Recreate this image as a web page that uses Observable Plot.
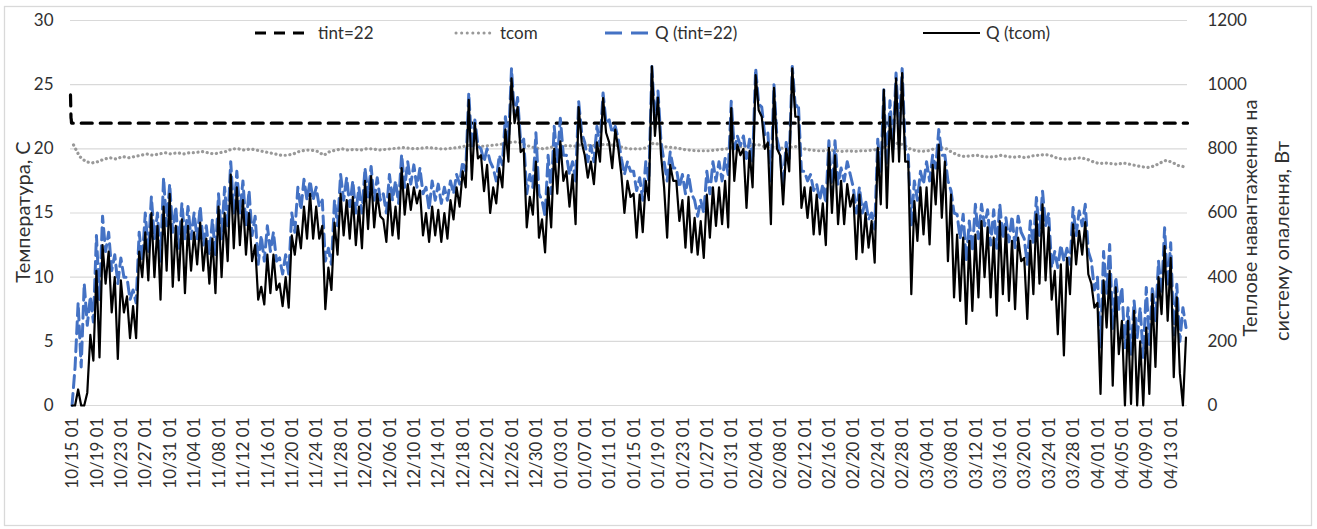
<!DOCTYPE html>
<html><head><meta charset="utf-8">
<script src="https://cdn.jsdelivr.net/npm/d3@7"></script>
<script src="https://cdn.jsdelivr.net/npm/@observablehq/plot@0.6"></script>
<style>
body{margin:0;background:#fff;}
#chart{width:1317px;height:529px;}
</style></head><body><div id="chart"></div>
<script>
// ---- data ----
const startDate = "2018-10-15T00:00:00Z";   // first hour of the series
const tickLabels = ["10/15 01","10/19 01","10/23 01","10/27 01","10/31 01","11/04 01","11/08 01","11/12 01","11/16 01","11/20 01","11/24 01","11/28 01","12/02 01","12/06 01","12/10 01","12/14 01","12/18 01","12/22 01","12/26 01","12/30 01","01/03 01","01/07 01","01/11 01","01/15 01","01/19 01","01/23 01","01/27 01","01/31 01","02/04 01","02/08 01","02/12 01","02/16 01","02/20 01","02/24 01","02/28 01","03/04 01","03/08 01","03/12 01","03/16 01","03/20 01","03/24 01","03/28 01","04/01 01","04/05 01","04/09 01","04/13 01"];
const leftTicks = [0,5,10,15,20,25,30];
const rightTicks = [0,200,400,600,800,1000,1200];
const seriesNames = ["tint=22","tcom","Q (tint=22)","Q (tcom)"];

// Q (tcom), W: two readings per day (night high, day low)
const qTcom = [
0,0, 50,0, 0,40, 220,140,
420,150, 500,380, 480,290, 400,145,
390,290, 340,210, 310,210, 480,400,
540,390, 600,400, 560,330, 620,420,
660,370, 560,390, 580,350, 560,420,
540,440, 570,420, 520,380, 520,350,
620,400, 600,450, 720,490, 680,500,
640,470, 600,450, 500,330, 370,315,
470,350, 470,360, 380,310, 400,305,
530,470, 560,490, 620,520, 660,520,
620,520, 560,300, 430,360, 570,470,
660,530, 640,520, 650,500, 620,490,
700,550, 715,555, 660,590, 580,510,
660,530, 620,520, 740,595, 690,610,
680,630, 670,530, 600,510, 620,530,
610,510, 600,520, 640,580, 680,620,
730,680, 953,704, 880,770, 780,668,
750,600, 680,630, 740,680, 860,760,
1020,880, 930,790, 800,555, 650,595,
760,523, 580,477, 680,555, 800,660,
823,700, 730,620, 720,565, 930,820,
780,710, 760,690, 820,760, 958,850,
820,740, 860,800, 720,600, 700,650,
660,523, 657,540, 700,640, 1057,840,
960,780, 680,523, 750,700, 700,575,
640,492, 650,477, 585,470, 575,460,
657,523, 680,560, 680,565, 700,555,
927,700, 813,780, 800,616, 793,680,
1030,920, 900,800, 820,565, 990,800,
780,627, 800,730, 1051,900, 900,616,
680,585, 680,533, 657,533, 630,500,
803,600, 780,565, 700,565, 690,620,
657,456, 657,477, 600,492, 575,445,
803,627, 984,616, 900,760, 1020,760,
1036,760, 760,347, 637,513, 680,533,
680,502, 750,627, 813,585, 760,450,
657,337, 533,326, 523,254, 513,295,
533,337, 575,400, 555,337, 523,280,
575,347, 555,326, 513,300, 523,450,
460,270, 513,347, 596,380, 627,390,
555,330, 420,222, 440,156, 460,347,
565,440, 544,470, 572,409, 380,305,
320,36, 390,243, 420,62, 368,160,
264,0, 264,5, 295,0, 200,0,
243,36, 347,120, 400,285, 497,264,
460,88, 337,100, 0,212
];

// Q (tint=22), W: two readings per day
const qTint = [
0,120, 320,120, 380,250, 340,260,
530,330, 590,480, 540,420, 470,380,
460,400, 400,330, 360,320, 540,450,
600,480, 650,520, 600,450, 710,560,
690,540, 620,490, 630,520, 620,520,
600,520, 620,500, 560,470, 580,470,
660,520, 680,560, 760,600, 730,600,
700,560, 670,530, 590,440, 530,450,
560,480, 540,450, 460,410, 470,410,
600,540, 680,610, 705,640, 700,640,
680,620, 640,450, 490,440, 640,560,
720,640, 710,620, 700,600, 680,600,
740,650, 745,640, 710,640, 660,600,
720,640, 700,630, 782,680, 760,690,
750,680, 740,660, 680,610, 700,640,
690,630, 680,640, 700,660, 720,690,
760,730, 974,800, 890,810, 800,760,
800,760, 740,700, 780,750, 900,820,
1050,900, 960,820, 830,660, 720,680,
850,660, 640,590, 780,660, 870,760,
895,780, 780,720, 760,700, 948,850,
820,760, 810,760, 870,810, 974,880,
890,850, 870,830, 770,720, 760,730,
730,670, 710,640, 760,700, 1057,880,
980,820, 760,700, 790,740, 740,680,
720,660, 720,660, 640,590, 640,600,
730,660, 760,700, 760,700, 770,720,
948,800, 840,810, 840,770, 830,760,
1051,940, 930,840, 850,700, 1000,830,
790,680, 820,770, 1057,930, 940,730,
730,700, 720,670, 690,640, 690,630,
825,660, 825,690, 740,700, 760,720,
680,600, 680,600, 640,580, 600,550,
830,730, 984,720, 950,800, 1036,850,
1050,800, 780,560, 700,640, 730,690,
760,700, 780,740, 860,780, 780,700,
670,600, 596,520, 596,450, 575,480,
627,520, 627,560, 610,500, 610,490,
627,520, 585,510, 590,492, 590,540,
520,440, 575,500, 648,530, 668,560,
600,430, 480,430, 500,450, 490,440,
617,530, 606,560, 627,480, 450,360,
400,180, 480,350, 502,240, 400,300,
368,180, 305,160, 326,212, 305,150,
368,190, 370,264, 450,347, 554,370,
507,220, 378,200, 305,243
];

// tcom, °C: one reading per day
const tcom = [
20.3,19.4,19.0,18.9,19.0,19.2,19.3,19.2,19.4,19.3,
19.4,19.5,19.6,19.5,19.6,19.7,19.6,19.7,19.6,19.7,
19.7,19.8,19.7,19.6,19.7,19.8,20.0,20.0,19.9,20.0,
19.9,19.8,19.7,19.6,19.5,19.5,19.6,19.8,19.9,19.9,
19.8,19.5,19.8,19.9,20.0,19.9,19.95,19.9,20.0,20.0,
19.9,19.95,20.0,20.05,20.1,20.05,20.0,20.05,20.1,20.05,
20.0,20.0,20.05,20.1,20.2,20.3,20.25,20.2,20.25,20.3,
20.35,20.45,20.55,20.5,20.3,20.15,20.05,20.0,20.1,20.2,
20.25,20.25,20.2,20.3,20.3,20.25,20.3,20.35,20.3,20.25,
20.1,20.0,20.0,20.0,20.1,20.45,20.35,20.15,20.1,20.05,
19.95,19.9,19.85,19.85,19.85,19.9,19.95,20.0,20.1,20.15,
20.2,20.25,20.35,20.2,20.1,20.2,20.05,20.05,20.2,20.1,
19.95,19.9,19.85,19.85,19.9,19.85,19.8,19.85,19.8,19.85,
19.85,19.9,20.0,20.15,20.2,20.45,20.3,20.0,19.85,19.8,
19.85,20.0,20.1,20.0,19.7,19.5,19.4,19.45,19.5,19.4,
19.35,19.4,19.5,19.4,19.35,19.4,19.3,19.45,19.5,19.55,
19.5,19.3,19.2,19.2,19.25,19.3,19.2,19.0,18.85,18.9,
18.85,18.8,18.9,18.8,18.7,18.6,18.55,18.65,18.9,19.1,
18.95,18.7,18.6
];

// tint: set point, °C, at the given hour from the start
const tintHours  = [0, 1, 2, 3, 4, 4392];
const tintValues = [24.2, 23.3, 22.4, 22.3, 22.0, 22.0];

const totalDays = 183;
const qPerDegree = 1200 / 30; // right axis W per left-axis °C

// ---- build tables ----
const t0 = Date.parse(startDate);
const DAY = 864e5, HOUR = 36e5;
const halfDayTime = i => new Date(t0 + (i * 0.5 + 0.25) * DAY);
const blackData = qTcom.map((q, i) => ({t: halfDayTime(i), y: q / qPerDegree}));
const blueData  = qTint.map((q, i) => ({t: halfDayTime(i), y: q / qPerDegree}));
const tcomData  = tcom.map((v, i) => ({t: new Date(t0 + (i + 0.5) * DAY), y: v}));
const tintData  = tintHours.map((h, i) => ({t: new Date(t0 + h * HOUR), y: tintValues[i]}));

const tickDates = tickLabels.map(s => {
  const [md, hh] = s.split(" ");
  const [m, d] = md.split("/").map(Number);
  const year = m >= 9 ? 2018 : 2019;
  return new Date(Date.UTC(year, m - 1, d, +hh));
});
const labelOf = new Map(tickDates.map((d, i) => [+d, tickLabels[i]]));

const FONT = "Lato, 'Noto Sans', sans-serif";
const TXT = "#303030";

const plot = Plot.plot({
  width: 1317, height: 529,
  marginLeft: 70, marginRight: 130, marginTop: 20, marginBottom: 124,
  x: {type: "utc", domain: [new Date(t0), new Date(t0 + totalDays * DAY)]},
  y: {domain: [0, 30]},
  style: {fontFamily: FONT, fontSize: "17px", color: TXT, background: "white", overflow: "visible"},
  marks: [
    Plot.ruleY(leftTicks, {stroke: "#d9d9d9", strokeWidth: 1.2}),
    Plot.axisY({ticks: leftTicks, tickSize: 0, tickPadding: 17, label: null, fontSize: 17}),
    Plot.axisY({anchor: "right", ticks: rightTicks.map(v => v / qPerDegree),
      tickFormat: v => String(Math.round(v * qPerDegree)), tickSize: 0, tickPadding: 20, label: null, fontSize: 17}),
    Plot.axisX({ticks: tickDates, tickFormat: d => labelOf.get(+d), tickRotate: -90,
      tickSize: 0, tickPadding: 12, label: null, fontSize: 17, dx: 2}),
    Plot.lineY(tintData, {x: "t", y: "y", stroke: "#000", strokeWidth: 3.2, strokeDasharray: "11,8"}),
    Plot.lineY(tcomData, {x: "t", y: "y", stroke: "#999999", strokeWidth: 3.2, strokeDasharray: "0.1,4.6", strokeLinecap: "round"}),
    Plot.lineY(blueData, {x: "t", y: "y", stroke: "#4472c4", strokeWidth: 3, strokeDasharray: "12,6"}),
    Plot.lineY(blackData, {x: "t", y: "y", stroke: "#000", strokeWidth: 2.2})
  ]
});
document.getElementById("chart").appendChild(plot);

// ---- decorations: outer border, axis titles, legend ----
const svg = d3.select(plot);
svg.insert("rect", ":first-child").attr("x", 4.5).attr("y", 6.5).attr("width", 1307).attr("height", 519)
  .attr("fill", "white").attr("stroke", "#d9d9d9").attr("stroke-width", 1.3);

const titles = svg.append("g").attr("font-family", FONT).attr("font-size", 20).attr("fill", TXT).attr("text-anchor", "middle");
titles.append("text").attr("transform", "translate(23,212) rotate(-90)").attr("dy", "0.35em").text("Температура, С");
titles.append("text").attr("transform", "translate(1250,218) rotate(-90)").attr("dy", "0.35em").text("Теплове навантаження на");
titles.append("text").attr("transform", "translate(1282,241) rotate(-90)").attr("dy", "0.35em").text("систему опалення, Вт");

const legendItems = [
  {name: seriesNames[0], x1: 255, x2: 310, tx: 318, stroke: "#000", w: 3.2, dash: "11,8", cap: "butt"},
  {name: seriesNames[1], x1: 456, x2: 493, tx: 500, stroke: "#999999", w: 3, dash: "0.1,5.5", cap: "round"},
  {name: seriesNames[2], x1: 605, x2: 650, tx: 655, stroke: "#4472c4", w: 3, dash: "17,9", cap: "butt"},
  {name: seriesNames[3], x1: 923, x2: 980, tx: 986, stroke: "#000", w: 2.2, dash: null, cap: "butt"}
];
const lg = svg.append("g").attr("font-family", FONT).attr("font-size", 17).attr("fill", TXT).attr("text-anchor", "start");
legendItems.forEach(it => {
  lg.append("line").attr("x1", it.x1).attr("x2", it.x2).attr("y1", 33).attr("y2", 33)
    .attr("stroke", it.stroke).attr("stroke-width", it.w).attr("stroke-dasharray", it.dash).attr("stroke-linecap", it.cap);
  lg.append("text").attr("x", it.tx).attr("y", 33).attr("dy", "0.35em").text(it.name);
});
</script>
</body></html>
